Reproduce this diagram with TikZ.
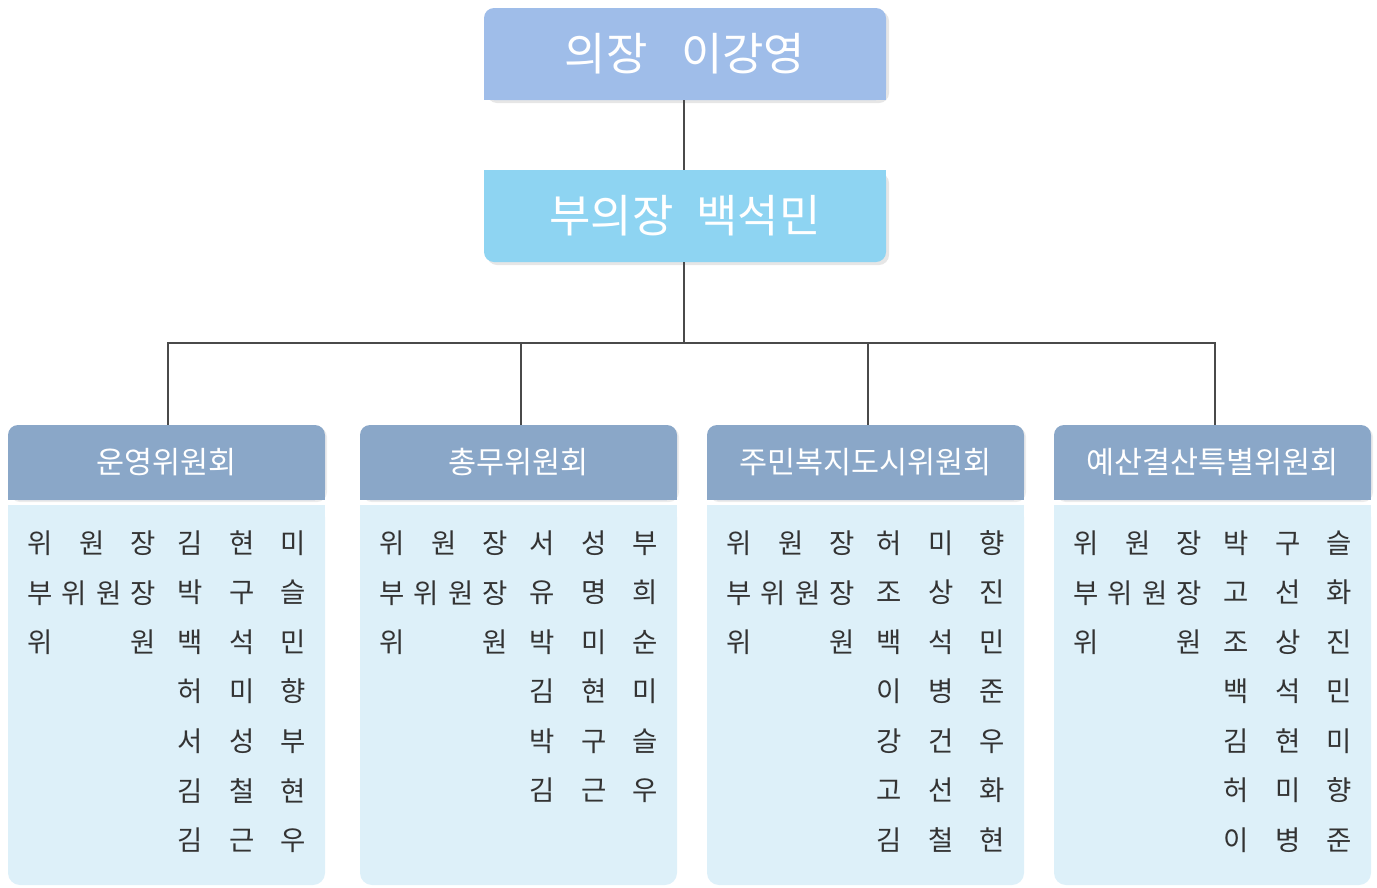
\documentclass[tikz,border=0pt]{standalone}
\usepackage{fontspec}
\setmainfont{Noto Sans CJK KR}
\usetikzlibrary{shadows}
\definecolor{chairblue}{HTML}{9FBDE9}
\definecolor{viceblue}{HTML}{8ED4F2}
\definecolor{hdrblue}{HTML}{8AA7C8}
\definecolor{bodyblue}{HTML}{DDF0F9}
\definecolor{linegray}{HTML}{4A4A4A}
\definecolor{txtgray}{HTML}{333333}
\newcommand\sprd[1]{\makebox[129pt][s]{#1}}
\newcommand\committee[4]{%
  \node[hdr,drop shadow={opacity=0.15,shadow xshift=2pt,shadow yshift=-2pt}] (h#1) at (#2+158.5,462.5) {};
  \fill[hdrblue] (h#1.west) rectangle (h#1.south east);
  \node[hdrtxt] (ht#1) at (h#1) {#3};
  \node[bodybox] (b#1) at (#2+158.5,695) {};
  \fill[bodyblue] (b#1.north west) rectangle (b#1.east);
  \node[rowtxt] (la#1) at (#2+19,543) {\sprd{위 원 장}};
  \node[rowtxt] (lb#1) at (#2+19,593) {\sprd{부 위 원 장}};
  \node[rowtxt] (lc#1) at (#2+19,642) {\sprd{위 원}};
  \foreach \nm [count=\i] in {#4}
    \node[rowtxt] (n#1-\i) at (#2+169,{543+49.5*(\i-1)}) {\sprd{\nm}};
}
\begin{document}
\begin{tikzpicture}[x=1pt,y=-1pt,
  topbox/.style={rectangle,rounded corners=10pt,minimum width=402pt,minimum height=92pt,inner sep=0pt},
  toptxt/.style={inner sep=0pt,text=white,font=\fontsize{45}{45}\selectfont},
  hdr/.style={rectangle,rounded corners=10pt,fill=hdrblue,minimum width=317pt,minimum height=75pt,inner sep=0pt},
  hdrtxt/.style={inner sep=0pt,text=white,font=\fontsize{30.5}{30.5}\selectfont},
  bodybox/.style={rectangle,rounded corners=12pt,fill=bodyblue,minimum width=317pt,minimum height=380pt,inner sep=0pt},
  rowtxt/.style={anchor=west,inner sep=0pt,text=txtgray,font=\fontsize{27.5}{27.5}\selectfont},
  conn/.style={draw=linegray,line width=1.4pt}]
\useasboundingbox (0,0) rectangle (1377,887);
% chair
\node[topbox,fill=chairblue,drop shadow={opacity=0.2,shadow xshift=3pt,shadow yshift=-3pt}] (chair) at (685,54) {};
\fill[chairblue] (chair.west) rectangle (chair.south east);
\node[toptxt] (chairtxt) at (chair) {의장\hspace{0.75em}이강영};
% vice
\node[topbox,fill=viceblue,drop shadow={opacity=0.2,shadow xshift=3pt,shadow yshift=-3pt}] (vice) at (685,216) {};
\fill[viceblue] (vice.north west) rectangle (vice.east);
\node[toptxt] (vicetxt) at (vice) {부의장\hspace{0.5em}백석민};
% committees
\committee{1}{8}{운영위원회}{김 현 미,박 구 슬,백 석 민,허 미 향,서 성 부,김 철 현,김 근 우}
\committee{2}{360}{총무위원회}{서 성 부,유 명 희,박 미 순,김 현 미,박 구 슬,김 근 우}
\committee{3}{707}{주민복지도시위원회}{허 미 향,조 상 진,백 석 민,이 병 준,강 건 우,고 선 화,김 철 현}
\committee{4}{1054}{예산결산특별위원회}{박 구 슬,고 선 화,조 상 진,백 석 민,김 현 미,허 미 향,이 병 준}
% connectors
\coordinate (bus) at (684,343);
\draw[conn] (chair.south -| bus) -- (vice.north -| bus);
\draw[conn] (vice.south -| bus) -- (bus);
\draw[conn] (bus) -| ([xshift=1.5pt]h1.north);
\draw[conn] (bus) -| ([xshift=2.5pt]h2.north);
\draw[conn] (bus) -| ([xshift=2.5pt]h3.north);
\draw[conn] (bus) -| ([xshift=2.5pt]h4.north);
\end{tikzpicture}
\end{document}
